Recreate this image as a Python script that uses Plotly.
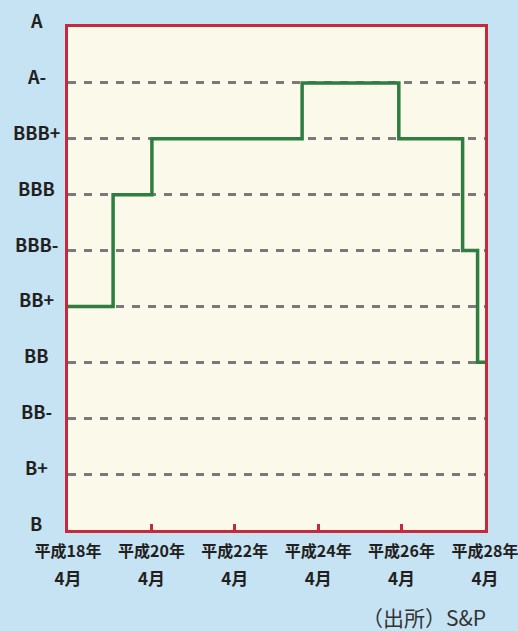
import plotly.graph_objects as go

# ---- data ----
rating_scale = ["B", "B+", "BB-", "BB", "BB+", "BBB-", "BBB", "BBB+", "A-", "A"]
change_dates = ["2006-04-01", "2007-05-01", "2008-04-05", "2011-11-12",
                "2014-03-08", "2015-09-18", "2016-01-27", "2016-04-01"]
ratings = ["BB+", "BBB", "BBB+", "A-", "BBB+", "BBB-", "BB", "BB"]
tick_dates = ["2006-04-01", "2008-04-01", "2010-04-01", "2012-04-01", "2014-04-01", "2016-04-01"]
tick_year_labels = ["平成18年", "平成20年", "平成22年", "平成24年", "平成26年", "平成28年"]
tick_month_labels = ["4月"] * 6
source_text = "（出所）S&P"

FONT = "Noto Sans CJK JP"
RED = "#c8283c"
GREEN = "#2f7d41"
GRID = "#7b7b7b"
BG = "#c5e3f3"
PLOT_BG = "#fbf9e9"

fig = go.Figure()
fig.add_trace(go.Scatter(
    x=change_dates, y=ratings, mode="lines", line_shape="hv",
    line=dict(color=GREEN, width=3.5), showlegend=False, hoverinfo="skip",
))
# invisible helper trace so the second-line tick axis renders
fig.add_trace(go.Scatter(
    x=change_dates, y=ratings, mode="lines", xaxis="x2", yaxis="y",
    line=dict(color="rgba(0,0,0,0)", width=0), showlegend=False, hoverinfo="skip",
))

x_range = [tick_dates[0], tick_dates[-1]]

fig.update_layout(
    width=518, height=631, autosize=False,
    margin=dict(l=68, r=33, t=27, b=101, autoexpand=False),
    paper_bgcolor=BG, plot_bgcolor=PLOT_BG,
    font=dict(family=FONT, color="#231f20"),
    xaxis=dict(
        type="date", range=x_range, automargin=False,
        tickvals=tick_dates, ticktext=tick_year_labels,
        tickfont=dict(family=FONT, size=16, color="#231f20", weight="bold"),
        ticks="inside", ticklen=6, tickwidth=3, tickcolor=RED,
        showline=True, linecolor=RED, linewidth=2.5, mirror=True,
        showgrid=False, zeroline=False, ticklabelstandoff=5,
        ticklabeloverflow="allow",
    ),
    xaxis2=dict(
        type="date", range=x_range, overlaying="x", side="bottom", anchor="y",
        automargin=False,
        tickvals=tick_dates, ticktext=tick_month_labels,
        tickfont=dict(family=FONT, size=17, color="#231f20", weight="bold"),
        ticks="", showline=False, showgrid=False, zeroline=False,
        ticklabelstandoff=37, ticklabeloverflow="allow",
    ),
    yaxis=dict(
        type="category", categoryorder="array", categoryarray=rating_scale,
        range=[0, len(rating_scale) - 1], automargin=False,
        showticklabels=False, ticks="",
        showline=True, linecolor=RED, linewidth=2.5, mirror=True,
        showgrid=True, gridcolor=GRID, gridwidth=3, griddash="8px,8px",
        zeroline=False,
    ),
)

for r in rating_scale:
    fig.add_annotation(
        xref="paper", yref="y", x=0, y=r, xshift=-32, yshift=7,
        xanchor="center", yanchor="middle", showarrow=False, text=r,
        font=dict(family=FONT, size=18, color="#231f20", weight="bold"),
    )

fig.add_annotation(
    xref="paper", yref="paper", x=1, y=0, xshift=3, yshift=-87,
    xanchor="right", yanchor="middle", showarrow=False, text=source_text,
    font=dict(family=FONT, size=21, color="#333333"),
)

fig.write_html(
    "out.html",
    config=dict(responsive=False, displayModeBar=False),
    post_script="document.body.style.margin='0';document.body.style.overflow='hidden';",
)
